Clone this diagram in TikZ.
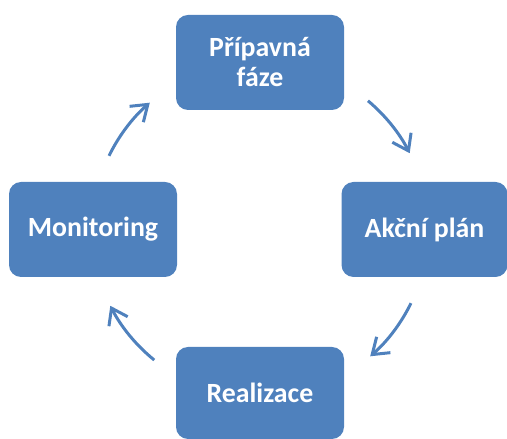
\documentclass[tikz,border=0pt]{standalone}
\usepackage{fontspec}
\setmainfont{Carlito}
\usetikzlibrary{arrows.meta}
\definecolor{boxblue}{HTML}{4F81BD}
\tikzset{
  x=1pt, y=1pt,
  phase/.style={fill=boxblue, draw=none, rounded corners=12pt, align=center,
    text=white, font=\fontsize{27.8}{30}\selectfont\bfseries,
    inner sep=0pt},
  cycarrow/.style={draw=boxblue, line width=3pt,
    -{Straight Barb[length=15pt, width=21pt, line width=3pt]}}
}
\begin{document}
\begin{tikzpicture}
\useasboundingbox (0,0) rectangle (507,439);
\clip (0,0) rectangle (507,439);
\coordinate (c) at (260,209.5);
\node[phase, minimum width=168pt, minimum height=95pt] (top) at (260,376.5) {Přípavná\\fáze};
\node[phase, minimum width=166pt, minimum height=95pt] (right) at (424.5,209.5) {Akční plán};
\node[phase, minimum width=168pt, minimum height=92pt] (bottom) at (260,46) {Realizace};
\node[phase, minimum width=168pt, minimum height=95pt] (left) at (93,209.5) {Monitoring};
\draw[cycarrow] (c) ++(50:168) coordinate (a1) arc[start angle=50, end angle=27, radius=168];
\draw[cycarrow] (c) ++(-26:168) coordinate (a2) arc[start angle=-26, end angle=-49, radius=168];
\draw[cycarrow] (c) ++(231:168) coordinate (a3) arc[start angle=231, end angle=207, radius=168];
\draw[cycarrow] (c) ++(154:168) coordinate (a4) arc[start angle=154, end angle=131, radius=168];
\end{tikzpicture}
\end{document}
